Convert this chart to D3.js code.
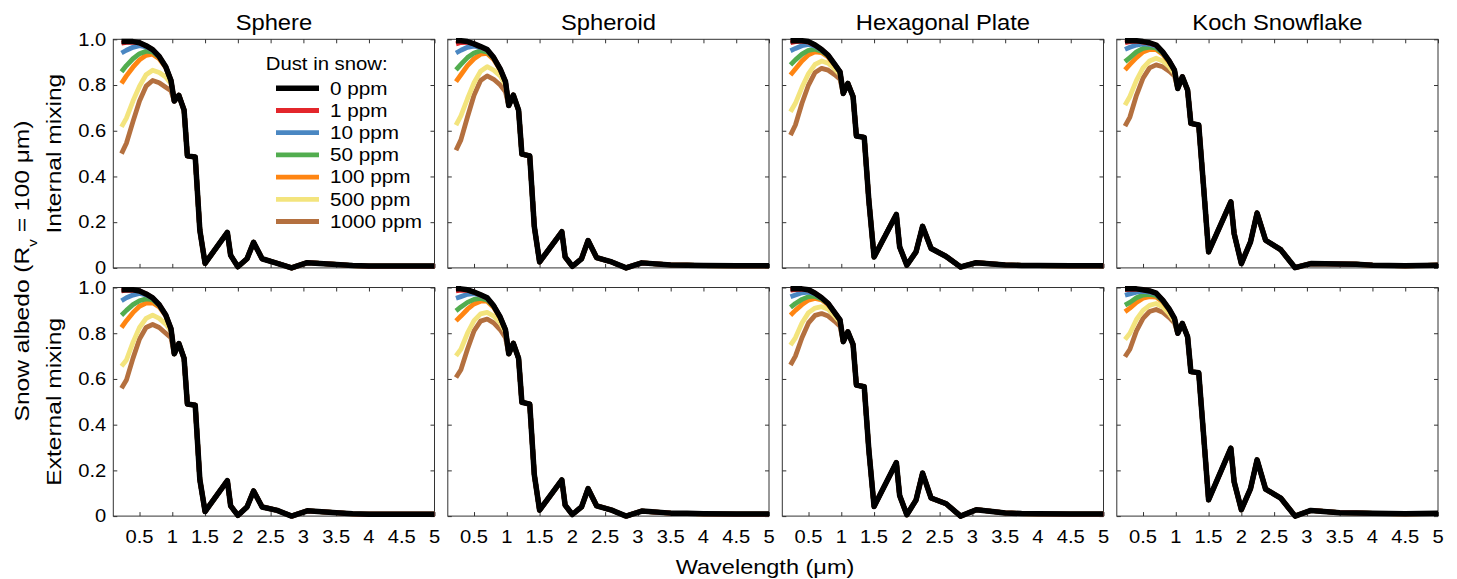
<!DOCTYPE html>
<html>
<head>
<meta charset="utf-8">
<script src="https://cdn.jsdelivr.net/npm/d3@7"></script>
<style>
  body { margin: 0; background: #fff; }
  svg { display: block; }
  text { font-family: "Liberation Sans", Arial, sans-serif; fill: #000; }
</style>
</head>
<body>
<div id="chart"></div>
<script>

// wavelengths (um): visible part where dust matters, and the shared tail
var headWl = [0.225, 0.3, 0.4, 0.5, 0.6, 0.7, 0.8, 0.9, 0.98];
var tailWl = [1.03, 1.1, 1.18, 1.23, 1.35, 1.42, 1.5, 1.84, 1.89, 2.0, 2.14, 2.24, 2.37, 2.6, 2.82, 3.06, 3.5, 3.75, 4.0, 4.5, 5.0];

var concLabels = ["0 ppm", "1 ppm", "10 ppm", "50 ppm", "100 ppm", "500 ppm", "1000 ppm"];
var concColors = ["#000000", "#e3262b", "#4a87c2", "#52ad4f", "#ff8512", "#f3e47d", "#b4703f"];
var shapeNames = ["Sphere", "Spheroid", "Hexagonal Plate", "Koch Snowflake"];
var rowNames = ["Internal mixing", "External mixing"];
var xTicks = [0.5, 1, 1.5, 2, 2.5, 3, 3.5, 4, 4.5, 5];
var yTicks = [0, 0.2, 0.4, 0.6, 0.8, 1.0];

// albedo, rows = 0,1,10,50,100,500,1000 ppm on headWl
var sphereIntHead = [
  [0.99, 0.99, 0.99, 0.985, 0.972, 0.955, 0.925, 0.88, 0.82],
  [0.983, 0.987, 0.988, 0.984, 0.971, 0.955, 0.925, 0.88, 0.82],
  [0.94, 0.952, 0.965, 0.972, 0.967, 0.953, 0.924, 0.88, 0.82],
  [0.858, 0.885, 0.915, 0.937, 0.948, 0.945, 0.922, 0.879, 0.82],
  [0.807, 0.84, 0.878, 0.91, 0.93, 0.935, 0.915, 0.876, 0.818],
  [0.617, 0.655, 0.73, 0.795, 0.845, 0.865, 0.855, 0.835, 0.805],
  [0.50, 0.545, 0.64, 0.73, 0.795, 0.82, 0.81, 0.79, 0.775]
];
var sphereIntTail = [0.73, 0.755, 0.69, 0.49, 0.485, 0.165, 0.02, 0.155, 0.055, 0.005, 0.04, 0.112, 0.04, 0.02, 0.0, 0.023, 0.015, 0.01, 0.008, 0.008, 0.008];

var spheroidIntHead = [
  [0.994, 0.994, 0.99, 0.98, 0.968, 0.955, 0.92, 0.87, 0.815],
  [0.98, 0.986, 0.987, 0.98, 0.967, 0.954, 0.92, 0.87, 0.815],
  [0.94, 0.952, 0.965, 0.97, 0.965, 0.953, 0.92, 0.87, 0.815],
  [0.866, 0.89, 0.92, 0.94, 0.95, 0.945, 0.918, 0.869, 0.815],
  [0.815, 0.845, 0.885, 0.915, 0.935, 0.938, 0.912, 0.866, 0.813],
  [0.625, 0.665, 0.74, 0.81, 0.86, 0.88, 0.865, 0.84, 0.80],
  [0.515, 0.56, 0.66, 0.755, 0.82, 0.84, 0.825, 0.80, 0.77]
];
var spheroidIntTail = [0.71, 0.756, 0.69, 0.498, 0.49, 0.18, 0.026, 0.158, 0.048, 0.007, 0.04, 0.12, 0.045, 0.026, 0.0, 0.022, 0.013, 0.012, 0.01, 0.009, 0.009];

var hexIntHead = [
  [0.994, 0.994, 0.994, 0.99, 0.975, 0.955, 0.93, 0.89, 0.858],
  [0.985, 0.99, 0.992, 0.988, 0.974, 0.955, 0.93, 0.89, 0.858],
  [0.95, 0.96, 0.972, 0.978, 0.97, 0.953, 0.93, 0.89, 0.858],
  [0.888, 0.91, 0.935, 0.952, 0.957, 0.948, 0.927, 0.889, 0.858],
  [0.844, 0.87, 0.905, 0.932, 0.945, 0.942, 0.922, 0.887, 0.857],
  [0.683, 0.72, 0.79, 0.85, 0.89, 0.905, 0.895, 0.87, 0.845],
  [0.581, 0.625, 0.72, 0.80, 0.855, 0.873, 0.865, 0.845, 0.825]
];
var hexIntTail = [0.763, 0.807, 0.749, 0.577, 0.571, 0.296, 0.048, 0.234, 0.092, 0.012, 0.07, 0.182, 0.085, 0.05, 0.004, 0.023, 0.013, 0.011, 0.01, 0.009, 0.009];

var kochIntHead = [
  [0.994, 0.994, 0.994, 0.99, 0.985, 0.975, 0.945, 0.905, 0.865],
  [0.985, 0.99, 0.992, 0.988, 0.983, 0.974, 0.945, 0.905, 0.865],
  [0.956, 0.965, 0.975, 0.98, 0.978, 0.97, 0.944, 0.905, 0.865],
  [0.902, 0.92, 0.945, 0.96, 0.966, 0.962, 0.94, 0.903, 0.864],
  [0.866, 0.89, 0.92, 0.945, 0.955, 0.955, 0.935, 0.9, 0.862],
  [0.712, 0.75, 0.82, 0.875, 0.905, 0.917, 0.905, 0.88, 0.85],
  [0.62, 0.66, 0.755, 0.83, 0.875, 0.888, 0.88, 0.86, 0.84]
];
var kochIntTail = [0.785, 0.836, 0.778, 0.632, 0.625, 0.369, 0.07, 0.289, 0.15, 0.019, 0.114, 0.24, 0.121, 0.08, 0.001, 0.019, 0.017, 0.016, 0.012, 0.009, 0.012];

var sphereExtHead = [
  [0.99, 0.99, 0.99, 0.985, 0.972, 0.955, 0.925, 0.88, 0.82],
  [0.985, 0.988, 0.989, 0.985, 0.972, 0.955, 0.925, 0.88, 0.82],
  [0.942, 0.955, 0.967, 0.974, 0.968, 0.954, 0.924, 0.88, 0.82],
  [0.879, 0.9, 0.925, 0.942, 0.95, 0.947, 0.922, 0.879, 0.82],
  [0.825, 0.855, 0.89, 0.918, 0.932, 0.933, 0.915, 0.876, 0.818],
  [0.656, 0.683, 0.76, 0.825, 0.865, 0.879, 0.865, 0.84, 0.81],
  [0.559, 0.595, 0.69, 0.775, 0.825, 0.838, 0.825, 0.80, 0.78]
];
var sphereExtTail = [0.71, 0.755, 0.69, 0.49, 0.485, 0.16, 0.02, 0.155, 0.045, 0.003, 0.04, 0.11, 0.04, 0.025, 0.0, 0.023, 0.015, 0.01, 0.008, 0.008, 0.008];

var spheroidExtHead = [
  [0.994, 0.994, 0.99, 0.98, 0.968, 0.955, 0.92, 0.87, 0.815],
  [0.985, 0.988, 0.988, 0.98, 0.967, 0.954, 0.92, 0.87, 0.815],
  [0.953, 0.96, 0.97, 0.973, 0.966, 0.953, 0.92, 0.87, 0.815],
  [0.898, 0.915, 0.935, 0.948, 0.952, 0.946, 0.918, 0.869, 0.815],
  [0.854, 0.875, 0.905, 0.928, 0.94, 0.94, 0.913, 0.866, 0.813],
  [0.701, 0.73, 0.8, 0.855, 0.885, 0.891, 0.875, 0.845, 0.805],
  [0.606, 0.64, 0.73, 0.81, 0.853, 0.862, 0.845, 0.815, 0.78]
];
var spheroidExtTail = [0.71, 0.756, 0.69, 0.498, 0.49, 0.18, 0.026, 0.158, 0.048, 0.007, 0.04, 0.12, 0.045, 0.026, 0.0, 0.022, 0.013, 0.012, 0.01, 0.009, 0.009];

var hexExtHead = [
  [0.994, 0.994, 0.994, 0.99, 0.975, 0.955, 0.93, 0.89, 0.858],
  [0.988, 0.991, 0.993, 0.989, 0.975, 0.955, 0.93, 0.89, 0.858],
  [0.959, 0.967, 0.977, 0.98, 0.972, 0.954, 0.93, 0.89, 0.858],
  [0.913, 0.93, 0.948, 0.96, 0.962, 0.95, 0.928, 0.889, 0.858],
  [0.879, 0.9, 0.925, 0.945, 0.952, 0.946, 0.924, 0.888, 0.857],
  [0.748, 0.78, 0.845, 0.89, 0.91, 0.916, 0.905, 0.875, 0.848],
  [0.661, 0.70, 0.78, 0.845, 0.878, 0.886, 0.875, 0.852, 0.83]
];
var hexExtTail = [0.763, 0.806, 0.75, 0.573, 0.566, 0.29, 0.042, 0.234, 0.09, 0.006, 0.07, 0.188, 0.079, 0.054, 0.0, 0.028, 0.014, 0.011, 0.01, 0.009, 0.009];

var kochExtHead = [
  [0.994, 0.994, 0.994, 0.99, 0.985, 0.975, 0.945, 0.905, 0.865],
  [0.991, 0.992, 0.993, 0.99, 0.985, 0.975, 0.945, 0.905, 0.865],
  [0.966, 0.972, 0.98, 0.983, 0.98, 0.972, 0.944, 0.905, 0.865],
  [0.923, 0.935, 0.955, 0.967, 0.97, 0.965, 0.942, 0.904, 0.864],
  [0.894, 0.91, 0.935, 0.953, 0.96, 0.958, 0.937, 0.9, 0.862],
  [0.773, 0.80, 0.86, 0.9, 0.922, 0.93, 0.915, 0.885, 0.853],
  [0.697, 0.73, 0.81, 0.865, 0.895, 0.904, 0.892, 0.868, 0.845]
];
var kochExtTail = [0.80, 0.843, 0.785, 0.632, 0.627, 0.37, 0.071, 0.297, 0.15, 0.028, 0.12, 0.246, 0.118, 0.079, 0.0, 0.025, 0.015, 0.014, 0.012, 0.01, 0.012];

var panels = [
  { row: 0, col: 0, head: sphereIntHead, tail: sphereIntTail },
  { row: 0, col: 1, head: spheroidIntHead, tail: spheroidIntTail },
  { row: 0, col: 2, head: hexIntHead, tail: hexIntTail },
  { row: 0, col: 3, head: kochIntHead, tail: kochIntTail },
  { row: 1, col: 0, head: sphereExtHead, tail: sphereExtTail },
  { row: 1, col: 1, head: spheroidExtHead, tail: spheroidExtTail },
  { row: 1, col: 2, head: hexExtHead, tail: hexExtTail },
  { row: 1, col: 3, head: kochExtHead, tail: kochExtTail }
];

var W = 1457, H = 579;
var colLeft = [113.3, 447.8, 782.3, 1116.8];
var rowTop = [39.3, 287.5];
var pw = 321.2, ph = 228.6;
var stretch = 1.15;   // the original font runs a bit wide

var svg = d3.select("#chart").append("svg")
  .attr("width", W)
  .attr("height", H);

function addText(g, x, y, str, size, anchor, rot, sx) {
  var t = g.append("text")
    .attr("transform", "translate(" + x + "," + y + ") rotate(" + (rot || 0) + ") scale(" + (sx || stretch) + ",1)")
    .attr("text-anchor", anchor || "middle")
    .attr("dy", "0.35em")
    .style("font-size", size + "px");
  if (str !== null) t.text(str);
  return t;
}

var x = d3.scaleLinear().domain([0.1, 5]).range([0, pw]);
var y = d3.scaleLinear().domain([0, 1]).range([ph, 0]);

var line = d3.line()
  .x(function(d) { return x(d[0]); })
  .y(function(d) { return y(d[1]); });

var allWl = headWl.concat(tailWl);

panels.forEach(function(p) {
  var g = svg.append("g")
    .attr("transform", "translate(" + colLeft[p.col] + "," + rowTop[p.row] + ")");

  // inward ticks on all four sides
  g.append("g").attr("transform", "translate(0," + ph + ")")
    .call(d3.axisBottom(x).tickValues(xTicks).tickSize(-4).tickFormat(""));
  g.append("g")
    .call(d3.axisTop(x).tickValues(xTicks).tickSize(-4).tickFormat(""));
  g.append("g")
    .call(d3.axisLeft(y).tickValues(yTicks).tickSize(-4).tickFormat(""));
  g.append("g").attr("transform", "translate(" + pw + ",0)")
    .call(d3.axisRight(y).tickValues(yTicks).tickSize(-4).tickFormat(""));
  g.selectAll(".domain").remove();
  g.selectAll(".tick line").attr("stroke", "#333");

  g.append("rect")
    .attr("width", pw)
    .attr("height", ph)
    .attr("fill", "none")
    .attr("stroke", "#333")
    .attr("stroke-width", 1);

  // colored curves first, clean snow (black) on top
  for (var i = concLabels.length - 1; i >= 0; i--) {
    var vals = p.head[i].concat(p.tail);
    var pts = allWl.map(function(w, k) { return [w, vals[k]]; });
    g.append("path")
      .attr("d", line(pts))
      .attr("fill", "none")
      .attr("stroke", concColors[i])
      .attr("stroke-width", i === 0 ? 5.5 : 4.8)
      .attr("stroke-linejoin", "round");
  }

  if (p.row === 1) {
    xTicks.forEach(function(t) {
      addText(g, x(t), ph + 21, String(t), 18, "middle", 0, 1.12);
    });
  }
  if (p.col === 0) {
    yTicks.forEach(function(t) {
      addText(g, -7, y(t), t === 0 ? "0" : t.toFixed(1), 18, "end", 0, 1.12);
    });
  }
  if (p.row === 0) {
    addText(g, pw / 2, -17, shapeNames[p.col], 22, "middle", 0, 1.08);
  }
});

// legend inside the first panel
var leg = svg.append("g").attr("transform", "translate(" + colLeft[0] + "," + rowTop[0] + ")");
addText(leg, 152.4, 24.5, "Dust in snow:", 18, "start", 0, 1.13);
concLabels.forEach(function(lab, i) {
  var ly = 49 + i * 22.2;
  leg.append("line")
    .attr("x1", 162.7).attr("x2", 205.7)
    .attr("y1", ly).attr("y2", ly)
    .attr("stroke", concColors[i])
    .attr("stroke-width", i === 0 ? 5.5 : 4.8);
  addText(leg, 216.7, ly, lab, 18, "start", 0, 1.15);
});

// outer labels
addText(svg, 765, 567, null, 21, "middle", 0, 1.12)
  .call(function(t) {
    t.append("tspan").text("Wavelength (");
    t.append("tspan").text("μ");
    t.append("tspan").text("m)");
  });

addText(svg, 22, 271, null, 21, "middle", -90, 1.17)
  .call(function(t) {
    t.append("tspan").text("Snow albedo (R");
    t.append("tspan").attr("baseline-shift", "sub").style("font-size", "13px").text("v");
    t.append("tspan").text(" = 100 μm)");
  });

rowNames.forEach(function(n, r) {
  addText(svg, 54, rowTop[r] + ph / 2, n, 21, "middle", -90, 1.17);
});

</script>
</body>
</html>
